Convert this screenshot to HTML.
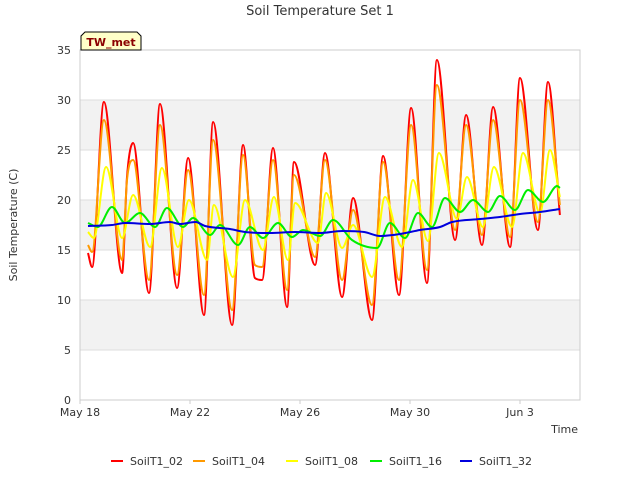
<!DOCTYPE html>
<html><head><meta charset="utf-8"><style>
body{margin:0;background:#fff;font-family:"DejaVu Sans","Liberation Sans",sans-serif}
svg text{font-family:"DejaVu Sans","Liberation Sans",sans-serif}
</style></head><body>
<svg id="chart" width="640" height="480" viewBox="0 0 640 480" xmlns="http://www.w3.org/2000/svg">
<text x="320" y="15" text-anchor="middle" font-size="13" fill="#333">Soil Temperature Set 1</text>
<g id="bands"></g>
<g id="grid"></g>
<rect x="80" y="50" width="500" height="350" fill="none" stroke="#ccc"/>
<g id="yticks"></g>
<g id="xticks"></g>
<g id="series"></g>
<text x="17" y="225" transform="rotate(-90 17 225)" text-anchor="middle" font-size="11" fill="#333">Soil Temperature (C)</text>
<text x="578" y="433" text-anchor="end" font-size="11" fill="#333">Time</text>
<g>
<path d="M81,50 L81,36 L85,32 L137,32 L141,36 L141,50 Z" fill="#ffffc8" stroke="#000" stroke-width="1"/>
<text x="111" y="46" text-anchor="middle" font-size="11" font-weight="bold" fill="#8b0000">TW_met</text>
</g>
<g id="legend"></g>
</svg>
<script>
const yTicks=[0,5,10,15,20,25,30,35];
const xTickDays=[0,4,8,12,16];
const xTickLabels=["May 18","May 22","May 26","May 30","Jun 3"];
const seriesNames=["SoilT1_02","SoilT1_04","SoilT1_08","SoilT1_16","SoilT1_32"];
const seriesColors=["#ff0000","#ff9900","#ffff00","#00ee00","#0000dd"];
const tA=[.29,.44,.87,1.53,1.71,1.93,2.51,2.91,3.53,3.93,4.51,4.84,5.53,5.93,6.36,6.62,7.02,7.53,7.78,8.55,8.91,9.53,9.93,10.62,11.02,11.6,12.04,12.62,12.98,13.64,14.04,14.62,15.02,15.64,16,16.65,17.02,17.45];
const soil02=[14.7,13.3,29.8,12.7,22.3,25.7,10.7,29.6,11.2,24.2,8.5,27.8,7.5,25.5,12.2,12,25.2,9.3,23.8,13.5,24.7,10.3,20.2,8,24.4,10.5,29.2,11.7,34,16,28.5,15.5,29.3,15.3,32.2,17,31.8,18.5];
const soil04=[15.5,14.8,28,14,22,24,12,27.5,12.5,23,10.5,26,9,24.5,13.5,13.3,24,11,22.5,14.3,24,12,19,9.5,23.8,12,27.5,13,31.5,17,27.5,16.5,28,16.3,30,17.8,30,19.5];
const tY=[.29,.5,.95,1.53,1.93,2.55,2.98,3.56,3.96,4.62,4.87,5.56,6,6.65,7.05,7.56,7.82,8.65,8.95,9.53,9.93,10.62,11.09,11.71,12.11,12.65,13.05,13.71,14.07,14.65,15.05,15.71,16.11,16.73,17.09,17.45];
const soil08=[16.8,16.2,23.3,16.2,20.5,15.3,23.2,15.3,20,14,19.5,12.3,20,15,20.3,14,19.7,15.7,20.7,15.2,17.5,12.3,20.3,15.3,22,15.9,24.7,18.1,22.3,17.3,23.3,17.3,24.7,18.7,25,20.3];
const tG=[.29,.65,1.16,1.64,2.18,2.73,3.16,3.75,4.11,4.73,5.09,5.75,6.18,6.65,7.2,7.71,8.11,8.73,9.2,9.89,10.8,11.27,11.82,12.29,12.8,13.27,13.82,14.29,14.84,15.27,15.82,16.29,16.84,17.35,17.45];
const soil16=[17.7,17.3,19.3,17.7,18.7,17.3,19.2,17.3,18.2,16.5,17.5,15.5,17.3,16.2,17.7,16.3,17,16.4,18,16,15.2,17.7,16.2,18.7,17.3,20.2,18.8,20,18.8,20.4,19,21,19.8,21.4,21.2];
const tB=[.29,1.16,1.64,2.55,3.27,3.64,4.2,4.55,5.45,6,6.91,7.82,8.73,9.53,10.33,10.91,11.64,12.36,13.09,13.53,14.55,15.27,16,16.73,17.45];
const soil32=[17.4,17.5,17.7,17.6,17.8,17.6,17.8,17.4,17.1,16.8,16.7,16.8,16.7,16.9,16.8,16.4,16.6,17,17.3,17.8,18.1,18.3,18.6,18.8,19.1];
const times=[tA,tA,tY,tG,tB];
const values=[soil02,soil04,soil08,soil16,soil32];
const NS="http://www.w3.org/2000/svg";
const X=d=>80+d*27.5, Y=v=>400-v*10;
function el(tag,attrs,parent){const e=document.createElementNS(NS,tag);for(const k in attrs)e.setAttribute(k,attrs[k]);parent.appendChild(e);return e;}
const bands=document.getElementById('bands');
for(let i=0;i<yTicks.length-1;i++){if(i%2===1){const r=el('rect',{x:80,y:Y(yTicks[i+1]),width:500,height:Y(yTicks[i])-Y(yTicks[i+1]),fill:'#f2f2f2'},bands);

}}
const grid=document.getElementById('grid'),yt=document.getElementById('yticks'),xt=document.getElementById('xticks');
yTicks.forEach(v=>{const l=el('line',{x1:80,x2:580,y1:Y(v),y2:Y(v),stroke:'#dddddd'},grid);


const t=el('text',{x:71,y:Y(v)+4,'text-anchor':'end','font-size':11,fill:'#333'},yt);t.textContent=v;

});
xTickDays.forEach((d,i)=>{el('line',{x1:X(d),x2:X(d),y1:400,y2:404,stroke:'#ccc'},xt);
const t=el('text',{x:X(d),y:416,'text-anchor':'middle','font-size':11,fill:'#333'},xt);t.textContent=xTickLabels[i];

});
const sg=document.getElementById('series');
function monotone(ts,vs){const n=ts.length;const x=ts.map(X),y=vs.map(Y);
const dx=[],s=[];for(let i=0;i<n-1;i++){dx.push(x[i+1]-x[i]);s.push((y[i+1]-y[i])/dx[i]);}
const m=[s[0]];for(let i=1;i<n-1;i++){m.push(s[i-1]*s[i]<=0?0:(s[i-1]+s[i])/2);}m.push(s[n-2]);
for(let i=0;i<n-1;i++){if(s[i]===0){m[i]=0;m[i+1]=0;continue;}const a=m[i]/s[i],b=m[i+1]/s[i],h=a*a+b*b;if(h>9){const t=3/Math.sqrt(h);m[i]=t*a*s[i];m[i+1]=t*b*s[i];}}
let d='M'+x[0].toFixed(1)+','+y[0].toFixed(1);
for(let i=0;i<n-1;i++){const h=dx[i]/3;d+=' C'+(x[i]+h).toFixed(1)+','+(y[i]+m[i]*h).toFixed(1)+' '+(x[i+1]-h).toFixed(1)+','+(y[i+1]-m[i+1]*h).toFixed(1)+' '+x[i+1].toFixed(1)+','+y[i+1].toFixed(1);}
return d;}
values.forEach((vs,i)=>{const pa=el('path',{d:monotone(times[i],vs),fill:'none',stroke:seriesColors[i],'stroke-width':2,'stroke-linejoin':'round'},sg);

});
const lg=document.getElementById('legend');const lx=[111,193,286,370,460];
seriesNames.forEach((n,i)=>{const g=el('g',{},lg);


el('line',{x1:lx[i],x2:lx[i]+12,y1:461,y2:461,stroke:seriesColors[i],'stroke-width':2},g);
const t=el('text',{x:lx[i]+19,y:465,'font-size':11,fill:'#333'},g);t.textContent=n;});
</script>
</body></html>
